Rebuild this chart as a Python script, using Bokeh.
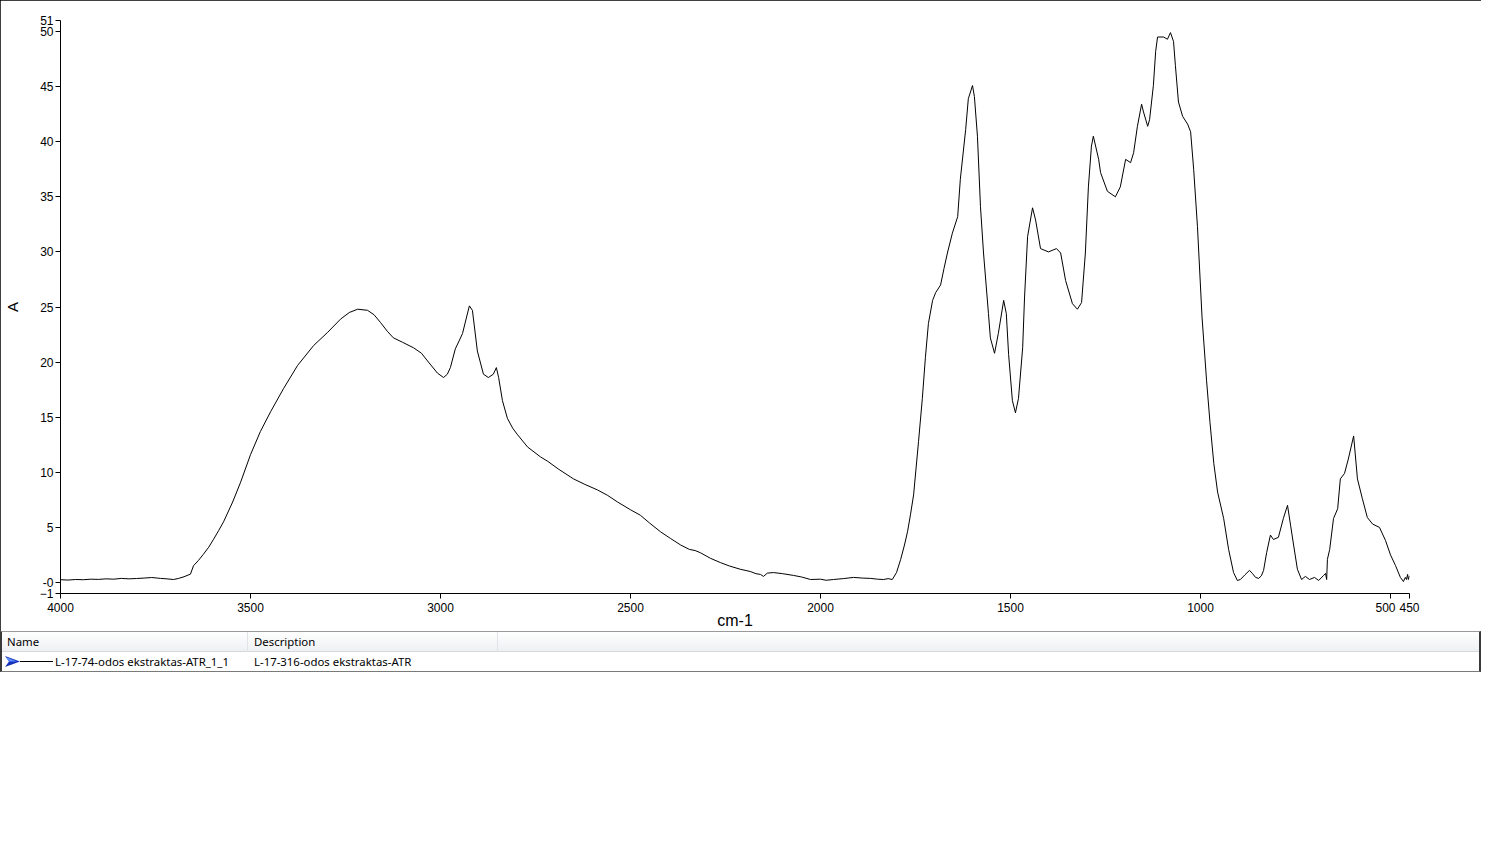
from bokeh.plotting import figure
from bokeh.models import Range1d, FixedTicker, Div
from bokeh.layouts import column
from bokeh.embed import file_html
from bokeh.resources import INLINE

# ---- data ----
wavenumber = [
    4000, 3980, 3960, 3940, 3920, 3900, 3880, 3860, 3840, 3820, 3800, 3780, 3760, 3745,
    3737, 3720, 3703, 3690, 3675, 3658, 3650, 3637, 3624, 3610, 3597, 3584, 3571, 3547,
    3526, 3500, 3474, 3447, 3413, 3376, 3334, 3297, 3263, 3240, 3218, 3192, 3175, 3158,
    3140, 3124, 3100, 3071, 3050, 3034, 3008, 2992, 2982, 2974, 2961, 2950, 2942, 2932,
    2924, 2916, 2910, 2903, 2887, 2874, 2861, 2853, 2847, 2837, 2824, 2810, 2797, 2771,
    2737, 2718, 2690, 2650, 2620, 2587, 2560, 2534, 2500, 2474, 2450, 2421, 2395, 2368,
    2345, 2330, 2316, 2290, 2263, 2240, 2211, 2185, 2170, 2158, 2150, 2140, 2124, 2100,
    2071, 2050, 2026, 2000, 1985, 1966, 1940, 1913, 1890, 1868, 1850, 1834, 1822, 1811,
    1800, 1789, 1779, 1771, 1763, 1755, 1742, 1732, 1724, 1716, 1705, 1697, 1684, 1675,
    1666, 1653, 1639, 1632, 1618, 1611, 1600, 1595, 1587, 1579, 1571, 1558, 1553, 1542,
    1532, 1518, 1511, 1505, 1495, 1487, 1479, 1468, 1463, 1455, 1442, 1434, 1421, 1400,
    1379, 1368, 1355, 1337, 1324, 1313, 1303, 1295, 1287, 1282, 1268, 1263, 1245, 1224,
    1211, 1197, 1184, 1176, 1166, 1155, 1150, 1139, 1134, 1124, 1118, 1113, 1097, 1087,
    1079, 1071, 1066, 1058, 1047, 1034, 1026, 1018, 1008, 996, 984, 975, 965, 955,
    949, 939, 926, 913, 903, 895, 883, 871, 863, 855, 847, 840, 834, 826,
    816, 808, 795, 782, 771, 763, 755, 745, 734, 724, 713, 700, 689, 676,
    671, 668, 666, 660, 650, 639, 632, 621, 611, 597, 587, 574, 561, 547,
    529, 513, 500, 487, 474, 466, 461, 458, 455, 453, 450,
]
absorbance = [
    0.25, 0.22, 0.27, 0.25, 0.30, 0.28, 0.33, 0.30, 0.37, 0.33, 0.36, 0.40, 0.45, 0.40,
    0.37, 0.33, 0.27, 0.36, 0.52, 0.76, 1.52, 2.0, 2.56, 3.2, 3.93, 4.7, 5.5, 7.3,
    9.1, 11.6, 13.7, 15.5, 17.6, 19.7, 21.5, 22.7, 23.9, 24.5, 24.8, 24.7, 24.3, 23.6,
    22.8, 22.2, 21.8, 21.3, 20.8, 20.1, 19.0, 18.6, 18.9, 19.5, 21.2, 22.0, 22.6, 24.0,
    25.1, 24.7, 23.0, 21.0, 18.9, 18.6, 18.9, 19.5, 18.6, 16.5, 14.9, 14.0, 13.4, 12.3,
    11.4, 11.0, 10.3, 9.4, 8.9, 8.4, 7.9, 7.3, 6.6, 6.1, 5.4, 4.6, 4.0, 3.4,
    3.0, 2.9, 2.7, 2.2, 1.8, 1.5, 1.2, 1.0, 0.8, 0.73, 0.55, 0.85, 0.9, 0.8,
    0.64, 0.5, 0.27, 0.3, 0.2, 0.27, 0.35, 0.46, 0.4, 0.37, 0.3, 0.27, 0.35, 0.27,
    0.9, 2.1, 3.4, 4.6, 6.2, 7.95, 12.8, 16.7, 20.4, 23.5, 25.6, 26.3, 27.0, 28.5,
    29.9, 31.7, 33.2, 36.6, 41.1, 43.9, 45.1, 44.1, 40.5, 34.1, 29.9, 24.4, 22.2, 20.8,
    22.6, 25.6, 24.4, 20.7, 16.5, 15.4, 16.7, 21.3, 25.9, 31.4, 34.0, 32.9, 30.3, 30.0,
    30.3, 29.9, 27.4, 25.3, 24.8, 25.4, 29.9, 35.9, 39.6, 40.5, 38.4, 37.2, 35.5, 35.0,
    35.9, 38.4, 38.1, 39.0, 41.4, 43.4, 42.7, 41.4, 42.0, 45.1, 48.2, 49.5, 49.5, 49.3,
    49.9, 49.1, 46.9, 43.6, 42.3, 41.6, 40.9, 37.5, 32.3, 24.1, 18.3, 14.5, 10.8, 8.2,
    7.3, 5.8, 3.0, 0.9, 0.18, 0.27, 0.7, 1.1, 0.8, 0.46, 0.37, 0.6, 1.1, 2.7,
    4.3, 3.9, 4.1, 5.8, 7.0, 5.2, 3.4, 1.2, 0.27, 0.55, 0.27, 0.46, 0.18, 0.64,
    0.82, 0.27, 2.1, 3.0, 5.8, 6.7, 9.4, 9.9, 11.2, 13.3, 9.4, 7.6, 5.9, 5.3,
    5.0, 3.8, 2.5, 1.55, 0.46, 0.09, 0.46, 0.27, 0.73, 0.27, 0.6,
]
x_ticks = [4000, 3500, 3000, 2500, 2000, 1500, 1000, 500, 450]
x_label_overrides = {500: "500\u00a0\u00a0\u00a0"}
y_ticks = [51, 50, 45, 40, 35, 30, 25, 20, 15, 10, 5, 0, -1]
y_label_overrides = {0: "-0"}
x_title = "cm-1"
y_title = "A"
col_headers = ["Name", "Description"]
series_name = "L-17-74-odos ekstraktas-ATR_1_1"
series_desc = "L-17-316-odos ekstraktas-ATR"

FONT = "Liberation Sans"
W = 1481
BOTTOM = 38          # space under the plot frame
H = 593 + BOTTOM     # frame bottom lands at y = 593

p = figure(width=W, height=H,
           x_range=Range1d(4000, 450), y_range=Range1d(-1, 51),
           output_backend="svg", toolbar_location=None,
           min_border_left=60, min_border_right=W - 1409,
           min_border_top=20, min_border_bottom=BOTTOM)
p.styles = {"outline": "2px solid #000000", "outline-offset": "-2px"}
p.outline_line_color = None
p.xgrid.visible = False
p.ygrid.visible = False
p.background_fill_color = "white"
p.border_fill_color = "white"

p.line(wavenumber, absorbance, line_color="black", line_width=1)

for ax in (p.xaxis[0], p.yaxis[0]):
    ax.axis_line_color = "black"
    ax.axis_line_width = 1
    ax.major_tick_line_color = "black"
    ax.major_tick_out = 5
    ax.major_tick_in = 0
    ax.minor_tick_line_color = None
    ax.major_label_text_font = FONT
    ax.major_label_text_font_size = "12px"
    ax.major_label_text_color = "black"
    ax.axis_label_text_font = FONT
    ax.axis_label_text_font_size = "16px"
    ax.axis_label_text_font_style = "normal"
    ax.axis_label_text_color = "black"

p.xaxis[0].ticker = FixedTicker(ticks=x_ticks)
p.xaxis[0].major_label_overrides = x_label_overrides
p.xaxis[0].axis_label = x_title
p.xaxis[0].major_label_standoff = 2
p.xaxis[0].axis_label_standoff = -6

p.yaxis[0].ticker = FixedTicker(ticks=y_ticks)
p.yaxis[0].major_label_overrides = y_label_overrides
p.yaxis[0].axis_label = y_title
p.yaxis[0].axis_label_text_font_size = "15px"
p.yaxis[0].major_label_standoff = 2
p.yaxis[0].axis_label_standoff = 16

arrow_svg = ('<svg width="16" height="12" style="position:absolute;left:3px;top:24px;">'
             '<path d="M0,0 L15,5.5 L0,11 L4,5.5 Z" fill="#1530b8"/>'
             '<path d="M1,1 L12,5.5 L4,5.5 Z" fill="#5a8cff"/></svg>')

TH = 672 - H  # table ends where the reference's table ends
table_html = f"""
<div style="position:relative;width:{W}px;height:{TH}px;box-sizing:border-box;
 border-left:2px solid #3a3a3a;border-right:2px solid #3a3a3a;
 border-top:1px solid #9a9a9a;border-bottom:1px solid #7a7a7a;background:#ffffff;
 font-family:'Noto Sans',sans-serif;font-size:11.4px;color:#000;overflow:hidden;">
 <div style="position:absolute;left:0;top:0;right:0;height:20px;
   background:linear-gradient(#ffffff,#eef0f3);border-bottom:1px solid #d6d8dc;"></div>
 <div style="position:absolute;left:245px;top:0;width:1px;height:20px;background:#e1e3e6;"></div>
 <div style="position:absolute;left:495px;top:0;width:1px;height:20px;background:#e1e3e6;"></div>
 <div style="position:absolute;left:5px;top:2px;line-height:16px;">{col_headers[0]}</div>
 <div style="position:absolute;left:252px;top:2px;line-height:16px;">{col_headers[1]}</div>
 {arrow_svg}
 <div style="position:absolute;left:18px;top:29px;width:33px;height:1px;background:#000;"></div>
 <div style="position:absolute;left:53px;top:22px;line-height:16px;">{series_name}</div>
 <div style="position:absolute;left:252px;top:22px;line-height:16px;">{series_desc}</div>
</div>
"""
table = Div(text=table_html, width=W, height=TH, margin=0)

layout = column(p, table, spacing=0)
open("out.html", "w").write(file_html(layout, INLINE))
